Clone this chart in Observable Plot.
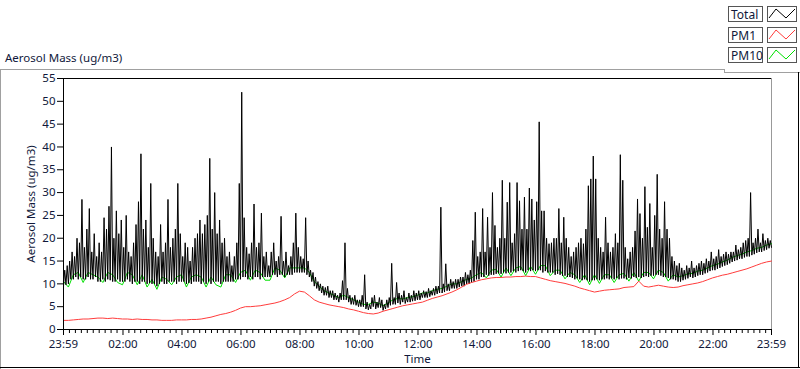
<!DOCTYPE html>
<html><head><meta charset="utf-8">
<script src="https://cdn.jsdelivr.net/npm/d3@7"></script>
<script src="https://cdn.jsdelivr.net/npm/@observablehq/plot@0.6"></script>
<style>
html,body{margin:0;padding:0;background:#fff;}
#chart{position:relative;width:800px;height:369px;overflow:hidden;}
svg text{font-family:"Noto Sans",sans-serif;}
</style></head><body><div id="chart"></div>
<script>
// time axis: minutes elapsed since 23:59 (start), 24 h span
const majorTickMinutes = [0,121,241,361,481,601,721,841,961,1081,1201,1321,1440];
const majorTickLabels = ["23:59","02:00","04:00","06:00","08:00","10:00","12:00","14:00","16:00","18:00","20:00","22:00","23:59"];
const yTicks = [0,5,10,15,20,25,30,35,40,45,50,55];
const seriesNames = ["Total","PM1","PM10"];
const seriesColors = ["#000000","#ff3c3c","#00e000"];

// Total: lower and upper envelope in each 5-minute window (one row per hour)
const totalStepMin = 5;
const totalLo = [
 9.5,9.8,10,11,11,11.5,11,11.5,11,11,11.5,11,
 11,11.5,10.5,10.5,11,10.5,11,10.8,10.5,10.5,11,10.5,
 10.5,10.5,11,10.5,10,10.5,10.5,10,10.5,10.5,10,10.2,
 10,10,9.5,10,10.5,10,10,10.5,10.5,10.5,10,10.5,
 10.5,10.5,10,10.2,10,10.5,10.5,10.5,10,10.5,10,10.5,
 10,10.5,10.5,10.5,10,10.5,10.5,10.5,10.5,10.5,11,11,
 11,11.5,11.5,11,11.5,11,11.5,11.5,11,11.5,11.5,11.5,
 11.5,12,12,11.5,12,12,11.5,12,12,12,12.5,12.5,
 12.5,12.5,12.5,12,11.5,10.5,9.5,9,8.5,8,7.5,7.5,
 7,7,6.5,6.5,6,6.5,6.5,6.5,6,5.5,5.5,5.3,
 5,5,5,4.5,4.3,4.5,5,4.5,4.8,4.8,4.2,4.5,
 4.8,5.3,5.5,5.5,5.8,5.5,6,5.7,6,6,6.2,6.3,
 6.5,6.5,7,7,7,7.2,7.5,7.5,7.8,8,8,8.2,
 8.5,8.5,9,9,9,9.3,9.5,9.5,10,10,10.3,10.5,
 11,11,11.5,11.5,12,11.8,12,12,12.2,12.3,12.2,12.5,
 12.3,12.5,12.5,12.8,12.5,12.8,13,12.8,12.5,13,12.8,13,
 12.8,13,13,12.5,12.8,12.5,12.5,12.5,12,12.2,12,11.8,
 11.8,11.5,11.5,11.3,11,11.2,11,10.8,11,10.8,10.5,10.8,
 10.8,11,10.8,11,11,11.2,11,11.2,11,11.3,11,11.2,
 11.2,11,11.3,11.2,11.5,11.3,11.5,11.3,11.5,11.7,11.5,11.8,
 11.8,12,12,11.8,11.5,11.5,11.3,11,11,10.8,10.5,10.5,
 10.8,11,11.2,11.5,11.3,11.5,11.8,12,12,12.3,12.5,12.8,
 13,13,13.3,13.5,13.8,14,14.2,14.5,14.8,15,15.2,15.5,
 15.5,15.8,16,16,16.3,16.5,16.8,17,17,17.3,17.5,17.8,
 18
];
const totalHi = [
 13,14,15,17,16,20,19,28.5,18,22,26.5,17,
 21,16,19,17,24.5,22,27,40,20,26,21,24,
 18,25,17,16,19,23,28,38.5,22,24,18,32,
 20,17,16,23,17,19,28.5,18,20,22,32,21,
 16,19,18,15,18,20,21,24,21,23,25,37.5,
 22,30,21,24,19,20,16,17,14,16,19,32,
 52,24.5,18,16.6,19,27.5,18,19,25.5,16,17,14,
 17,19,15,16,24.8,15,17,14,16,19,25.5,18,
 16,15.5,24.5,15,13,12.5,11.5,10.5,10,9.5,9.2,9.5,
 8.5,8.5,8,7.5,8,10.7,19,9,7.5,7,7.5,6.5,
 6.5,7.5,12,6,5.5,7,7.5,6,7,6.5,5.5,6.5,
 7,14.5,7,10.3,8,7.5,8.5,7,8,7.5,8.5,8,
 8.5,8,8.5,8.3,9,8.5,9,9.5,9.5,26.8,10,14.4,
 10,11,10.5,11,11,11.5,11.5,12.5,12,13,19.5,25.7,
 16,17,26.5,17,24.6,18,30,22.8,18,20,32.7,20,
 27.9,32.2,19,21,32.2,28.2,22,29,22,31,28.6,24,
 28,45.5,26,26,20,18.8,19,20,20,26.5,19,24.6,
 20,18,16,17,18,19,20,18.8,22,31.5,33,38,
 33,20,18,17,24.6,19,17,18,21,19,38.3,32.7,
 18,15.5,17,18,21.6,28.6,25.4,20,31.3,22.4,27.6,18,
 25,34,22,20,28,22,20,16,15,14,14.5,13.5,
 13,14,13.5,15,13.5,14,14.5,15,14.5,15.5,15,17,
 15.5,16,17.5,16,16.5,17,16.5,17,17,18.5,17.5,18,
 19,19.5,20,30,19,20,22,19,21,19.5,20,19.5,
 19
];

// PM1 and PM10, every 10 minutes
const subStepMin = 10;
const pm1 = [
 2.0,2.0,2.1,2.2,2.3,2.3, 2.4,2.5,2.5,2.4,2.5,2.4, 2.3,2.3,2.2,2.3,2.2,2.2,
 2.1,2.1,2.0,2.0,2.0,2.1, 2.1,2.1,2.2,2.2,2.3,2.5, 2.7,3.0,3.3,3.5,3.8,4.2,
 4.7,5.0,5.0,5.1,5.2,5.4, 5.6,5.8,6.1,6.5,7.0,7.8, 8.4,8.2,7.4,6.5,6.0,5.7,
 5.4,5.2,5.0,4.8,4.5,4.3, 4.0,3.7,3.5,3.4,3.6,4.0, 4.3,4.6,4.9,5.2,5.4,5.6,
 5.8,6.0,6.4,6.8,7.1,7.4, 7.8,8.2,8.7,9.3,9.9,10.3, 10.6,10.9,11.1,11.3,11.4,11.4,
 11.5,11.5,11.6,11.6,11.7,11.6, 11.6,11.3,11.0,10.7,10.5,10.3, 10.1,9.8,9.5,9.1,8.8,8.5,
 8.2,8.4,8.6,8.7,8.8,8.9, 9.2,9.3,9.4,10.6,9.5,9.3, 9.5,9.7,9.5,9.3,9.2,9.3,
 9.6,9.8,10.0,10.2,10.5,10.9, 11.3,11.6,11.9,12.1,12.4,12.7, 13.0,13.3,13.7,14.1,14.5,14.8,
 15.0
];
const pm10 = [
 10.5,9.3,12,12.5,10.3,12.5, 12,11.5,10.3,12.5,12,10.3, 9.8,12.5,12,9.8,12,9.3,
 11,8.8,11.5,11,9.8,11.5, 12,9.3,11.5,12,11.5,9.3, 11.5,9.8,9.3,12,12,10.3,
 12.5,13,10.8,13,12.5,10.8, 10.8,13.5,13,11.3,13.5,13.5, 13.5,13.5,12.5,10.5,9.5,8.5,
 8,7.5,7,7.5,7,6.5, 6,5.5,5.5,6,5.8,5.2, 5.8,6.5,6.8,6.7,7,7.2,
 7.5,8,8,8.5,8.8,9, 9.5,10,10,10.5,11,11.3, 12,12.5,11.3,13,13.2,11.5,
 13.5,11.8,13.5,13.8,11.8,13.8, 12.1,14,14,11.8,13,13, 11.1,12.5,12,10.3,12,9.8,
 12,10.1,12,12,10.3,12, 12.3,10.6,12.5,10.6,12.5,12.5, 11.1,13,12.5,10.6,12,11.5,
 11.8,12.2,12.3,12.8,13,13.5, 14,14.3,14.8,15.2,15.8,16.2, 16.5,17,17.3,17.8,18,18.5,
 18.8
];

// Total drawn as min/max zigzag: low at window start, high at window middle
const totalData = totalLo.flatMap((lo,i)=>[{t:i*totalStepMin, v:lo},{t:i*totalStepMin+totalStepMin/2, v:totalHi[i]}]).filter(d=>d.t<=1440);
const pm1Data = pm1.map((v,i)=>({t:i*subStepMin, v}));
const pm10Data = pm10.map((v,i)=>({t:i*subStepMin, v}));

// minor ticks: each major interval split into 10
const minorTicks = [];
for (let k=0;k<majorTickMinutes.length-1;k++){
  const a=majorTickMinutes[k], b=majorTickMinutes[k+1];
  for (let j=1;j<10;j++) minorTicks.push(a+(b-a)*j/10);
}
const labelOf = new Map(majorTickMinutes.map((m,i)=>[m,majorTickLabels[i]]));
const txt = "#10183a";
const fs = 11.5;

const plot = Plot.plot({
  width: 800, height: 369,
  marginLeft: 63, marginRight: 29, marginTop: 78, marginBottom: 40,
  style: {fontFamily: "Noto Sans, sans-serif", fontSize: fs+"px", color: txt, background: "transparent"},
  x: {domain: [0,1440]},
  y: {domain: [0,55]},
  marks: [
    Plot.ruleX([1440], {stroke: "#999"}),
    Plot.line(pm10Data, {x:"t", y:"v", stroke: seriesColors[2], strokeWidth: 1}),
    Plot.line(totalData, {x:"t", y:"v", stroke: seriesColors[0], strokeWidth: 1}),
    Plot.line(pm1Data, {x:"t", y:"v", stroke: seriesColors[1], strokeWidth: 1}),
    Plot.ruleY([55], {stroke: "#000"}),
    Plot.ruleX([0], {stroke: "#000"}),
    Plot.ruleY([0], {stroke: "#000"}),
    Plot.axisY({ticks: yTicks, tickSize: 6, tickPadding: 2, stroke: "#000", fill: txt, fontSize: fs, label: null}),
    Plot.axisX({ticks: minorTicks, tickSize: 4, tickFormat: () => "", stroke: "#000", label: null}),
    Plot.axisX({ticks: majorTickMinutes, tickSize: 6, tickPadding: 4, tickFormat: d => labelOf.get(d), stroke: "#000", fill: txt, fontSize: fs, label: null}),
    Plot.text(["Aerosol Mass (ug/m3)"], {frameAnchor: "left", dx: -32, rotate: -90, fill: txt, fontSize: fs, textAnchor: "middle"}),
    Plot.text(["Time"], {frameAnchor: "bottom", dy: 33, fill: txt, fontSize: fs})
  ]
});
document.getElementById("chart").appendChild(plot);

// panel decoration and legend
const svg = d3.select(plot);
const deco = svg.append("g").attr("shape-rendering","crispEdges");
deco.append("text").attr("x",5).attr("y",62).attr("text-anchor","start").attr("fill",txt).attr("font-size",fs).text("Aerosol Mass (ug/m3)");
deco.append("line").attr("x1",0).attr("x2",725).attr("y1",69.5).attr("y2",69.5).attr("stroke","#a0a0a0");
deco.append("line").attr("x1",0.5).attr("x2",0.5).attr("y1",69).attr("y2",369).attr("stroke","#a0a0a0");
deco.append("line").attr("x1",724.5).attr("x2",724.5).attr("y1",69).attr("y2",73).attr("stroke","#a0a0a0");
deco.append("line").attr("x1",725).attr("x2",800).attr("y1",72.5).attr("y2",72.5).attr("stroke","#a0a0a0");
deco.append("line").attr("x1",0).attr("x2",800).attr("y1",367.5).attr("y2",367.5).attr("stroke","#000");
deco.append("line").attr("x1",798.5).attr("x2",798.5).attr("y1",72).attr("y2",368).attr("stroke","#000");

seriesNames.forEach((name,i)=>{
  const by = Math.round(6 + i*20.5);
  const g = svg.append("g").attr("shape-rendering","crispEdges");
  g.append("rect").attr("x",728.5).attr("y",by+0.5).attr("width",34).attr("height",15).attr("fill","#fff").attr("stroke","#555");
  g.append("text").attr("x",731).attr("y",by+12.5).attr("text-anchor","start").attr("fill",txt).attr("font-size",fs+0.5).text(name);
  g.append("rect").attr("x",767.5).attr("y",by+0.5).attr("width",29).attr("height",15).attr("fill","#fff").attr("stroke","#555");
  g.append("path").attr("d",`M769,${by+12} L776,${by+3} L786,${by+12} L795,${by+3}`).attr("fill","none").attr("stroke",seriesColors[i]).attr("stroke-width",1).attr("shape-rendering","auto");
});
</script></body></html>
